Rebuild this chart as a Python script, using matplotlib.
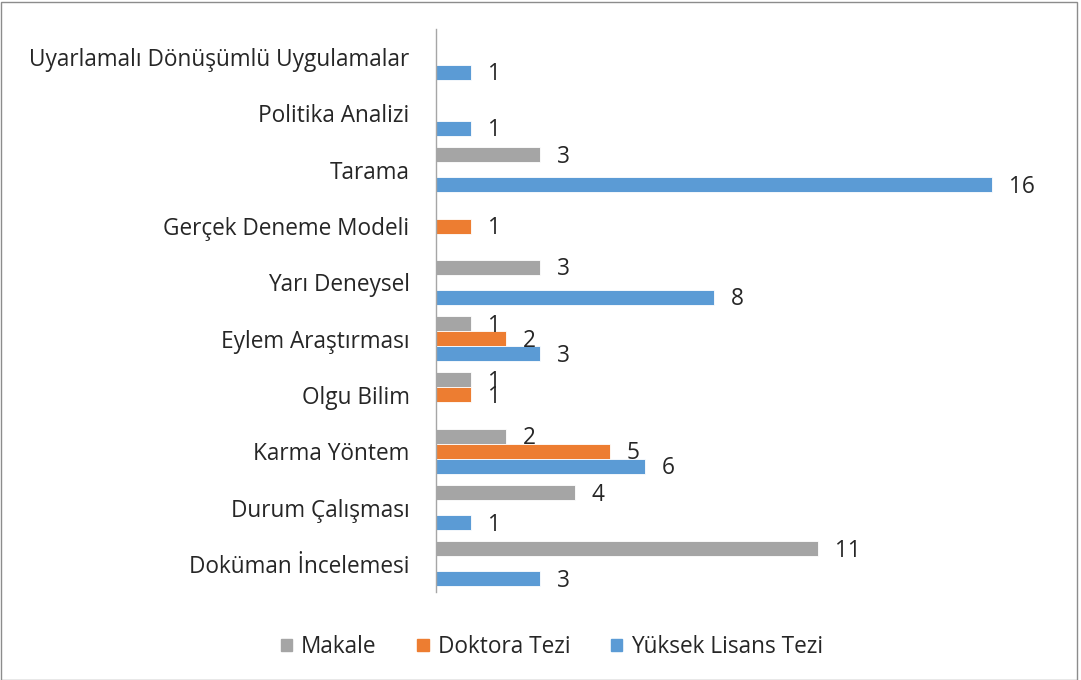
import numpy as np
import matplotlib.pyplot as plt
from matplotlib.patches import Rectangle

plt.rcParams['font.family'] = ['Open Sans', 'DejaVu Sans']

# categories listed bottom to top
categories = [
    "Doküman İncelemesi",
    "Durum Çalışması",
    "Karma Yöntem",
    "Olgu Bilim",
    "Eylem Araştırması",
    "Yarı Deneysel",
    "Gerçek Deneme Modeli",
    "Tarama",
    "Politika Analizi",
    "Uyarlamalı Dönüşümlü Uygulamalar",
]
makale = [11, 4, 2, 1, 1, 3, 0, 3, 0, 0]
doktora = [0, 0, 5, 1, 2, 0, 1, 0, 0, 0]
yuksek_lisans = [3, 1, 6, 0, 3, 8, 0, 16, 1, 1]

series = [
    ("Makale", makale, "#A5A5A5"),
    ("Doktora Tezi", doktora, "#ED7D31"),
    ("Yüksek Lisans Tezi", yuksek_lisans, "#5B9BD5"),
]

text_color = "#262626"
fs = 16.3
W, H = 1081, 680
fig = plt.figure(figsize=(W / 100, H / 100), dpi=100)
ax = fig.add_axes([436 / W, 1 - 592 / H, (1061.5 - 436) / W, (592 - 29) / H])

y = np.arange(len(categories))
bar_h = 0.8 / 3
offsets = [bar_h, 0, -bar_h]

for (name, vals, color), off in zip(series, offsets):
    vals = np.array(vals)
    mask = vals > 0
    ax.barh(y[mask] + off, vals[mask], height=bar_h, color=color,
            edgecolor="white", linewidth=0.6, label=name)
    for yy, v in zip(y[mask] + off, vals[mask]):
        ax.annotate(str(v), (v, yy), xytext=(17, -2), textcoords="offset pixels",
                    ha="left", va="center", fontsize=fs, color=text_color)

ax.set_xlim(0, 18)
ax.set_ylim(-0.5, len(categories) - 0.5)
ax.set_yticks(y)
ax.set_yticklabels(categories, fontsize=fs, color=text_color)
ax.tick_params(axis="y", length=0, pad=19)
ax.set_xticks([])
for side in ["top", "right", "bottom"]:
    ax.spines[side].set_visible(False)
ax.spines["left"].set_color("#A6A6A6")
ax.spines["left"].set_linewidth(1.0)

handles = [Rectangle((0, 0), 1, 1, color=c) for _, _, c in series]
fig.legend(handles, [n for n, _, _ in series], loc="center",
           bbox_to_anchor=(552 / W, 1 - 647 / H), ncol=3, frameon=False,
           fontsize=fs, handlelength=0.5, handleheight=0.5, handletextpad=0.4,
           columnspacing=1.8, labelcolor=text_color)

fig.patches.append(Rectangle((0.5 / W, 0.5 / H), 1 - 5 / W, 1 - 2 / H,
                             transform=fig.transFigure, fill=False,
                             edgecolor="#8C8C8C", linewidth=1.0))

fig.savefig("out.png", dpi=100)
